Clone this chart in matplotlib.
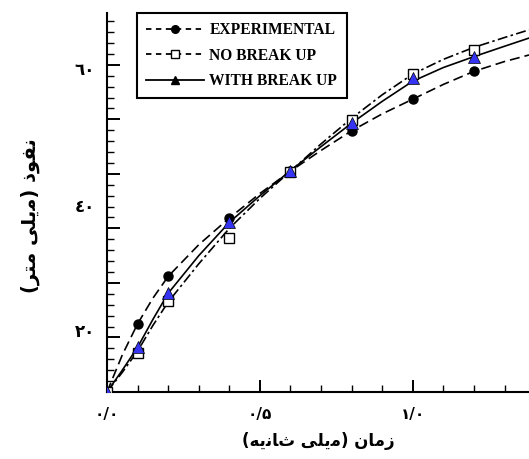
import matplotlib.pyplot as plt
from matplotlib.lines import Line2D
from matplotlib.ticker import MultipleLocator
import numpy as np

# marker data (time ms, penetration mm)
t_pts = [0.0, 0.1, 0.2, 0.4, 0.6, 0.8, 1.0, 1.2]
exp_pts = [0.0, 12.5, 21.2, 31.9, 40.5, 47.9, 53.7, 58.8]
nobreak_pts = [0.0, 7.2, 16.7, 28.2, 40.3, 49.9, 58.3, 62.8]
withbreak_pts = [0.0, 8.2, 18.1, 31.1, 40.6, 49.3, 57.6, 61.5]

# curves
t_line = [0.0, 0.05, 0.1, 0.15, 0.2, 0.3, 0.4, 0.5, 0.6, 0.7, 0.8, 0.9, 1.0, 1.1, 1.2, 1.3, 1.38]
exp_line = [0.0, 6.8, 12.5, 17.2, 21.2, 27.0, 31.9, 36.4, 40.5, 44.3, 47.9, 51.0, 53.7, 56.4, 58.8, 60.6, 61.8]
nobreak_line = [0.0, 3.6, 7.5, 12.2, 16.5, 23.5, 30.0, 35.5, 40.5, 45.5, 50.2, 54.5, 58.3, 61.0, 63.2, 65.0, 66.4]
withbreak_line = [0.0, 4.0, 8.2, 13.3, 18.1, 25.0, 31.1, 36.0, 40.6, 45.0, 49.3, 53.3, 57.0, 59.5, 61.5, 63.4, 64.9]

xtick_vals = [0.0, 0.5, 1.0]
xtick_labels = ['٠/٠', '٠/۵', '١/٠']
ytick_vals = [59, 34, 11]
ytick_labels = ['٦٠', '٤٠', '٢٠']

legend_labels = ['EXPERIMENTAL', 'NO BREAK UP', 'WITH BREAK UP']

# persian labels, written in visual order with presentation forms
xlabel = '(' + '\uFEEA\uFBFE\uFEE7\uFE8E\uFE99' + ' ' + '\uFBFD\uFEE0\uFBFE\uFEE3' + ')' + ' ' + '\uFEE5\uFE8E\uFEE3\uFEAF'
ylabel = '(' + '\uFEAE\uFE98\uFEE3' + ' ' + '\uFBFD\uFEE0\uFBFE\uFEE3' + ')' + ' ' + '\uFEAB\uFEEE\uFED4\uFEE7'

blue = '#3434f2'
arfont = dict(family=['DejaVu Sans'], weight='bold')

fig = plt.figure(figsize=(5.29, 4.59), dpi=100)
ax = fig.add_axes([0.2023, 0.146, 0.7977, 0.8257])

ax.plot(t_line, exp_line, color='black', lw=1.2, ls=(0, (6, 3)))
ax.plot(t_line, nobreak_line, color='black', lw=1.2, ls=(0, (6, 2, 1.5, 2)))
ax.plot(t_line, withbreak_line, color='black', lw=1.2, ls='-')

ax.plot(t_pts, exp_pts, 'o', ms=6.5, mfc='black', mec='black', zorder=3)
ax.plot(t_pts, nobreak_pts, 's', ms=6.5, mfc='white', mec='black', mew=1, zorder=3)
ax.plot(t_pts, withbreak_pts, '^', ms=9, mfc=blue, mec='black', mew=0.5, zorder=4)

ax.set_xlim(0, 1.38)
ax.set_ylim(0, 69.5)

for s in ['top', 'right']:
    ax.spines[s].set_visible(False)
for s in ['left', 'bottom']:
    ax.spines[s].set_linewidth(1.5)

ax.xaxis.set_minor_locator(MultipleLocator(0.1))
ax.set_xticks(xtick_vals, xtick_labels, **arfont, fontsize=11)
ax.yaxis.set_major_locator(MultipleLocator(10))
ax.yaxis.set_minor_locator(MultipleLocator(2))
ax.set_yticklabels([])
ax.tick_params(which='major', direction='in', length=9, width=1.4)
ax.tick_params(which='minor', direction='in', length=5, width=1)
ax.tick_params(axis='x', which='major', pad=11)

for v, lab in zip(ytick_vals, ytick_labels):
    ax.text(-0.028, v, lab, transform=ax.get_yaxis_transform(), ha='right', va='center',
            fontsize=12, **arfont)

ax.set_xlabel(xlabel, fontsize=12, labelpad=7, **arfont)
fig.text(0.057, 0.53, ylabel, rotation=90, ha='center', va='center', fontsize=14, **arfont)

handles = [
    Line2D([], [], color='black', lw=1.3, ls=(0, (3, 2.5)), marker='o', ms=5.5, mfc='black'),
    Line2D([], [], color='black', lw=1.3, ls=(0, (3, 2.5)), marker='s', ms=5.5, mfc='white', mec='black'),
    Line2D([], [], color='black', lw=1.3, ls='-', marker='^', ms=6, mfc='black', mec='black'),
]
leg = ax.legend(handles, legend_labels, loc='upper left', bbox_to_anchor=(0.071, 1.0),
                prop=dict(family='Liberation Serif', weight='bold', size=11.2),
                handlelength=3.7, handletextpad=0.35, labelspacing=0.6, borderpad=0.6,
                fancybox=False, framealpha=1, edgecolor='black', borderaxespad=0)
leg.get_frame().set_linewidth(1.5)

fig.savefig('out.png', dpi=100)
